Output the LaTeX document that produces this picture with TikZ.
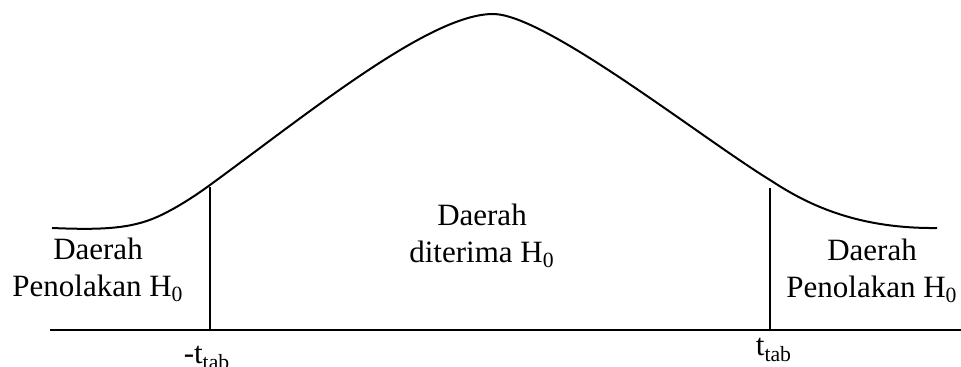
\documentclass[tikz,border=0pt]{standalone}
\usepackage{fontspec}
\setmainfont{Liberation Serif}
\usepackage{tikz}
\usetikzlibrary{positioning}
\newcommand{\Hnol}{H\textsubscript{0}}
\newcommand{\ttab}{t\textsubscript{tab}}

\begin{document}
\begin{tikzpicture}[x=0.5pt, y=-0.5pt, font=\fontsize{15.5}{18.5}\selectfont,
  lbl/.style={align=center, anchor=base, inner sep=0pt},
  crit/.style={line width=0.75pt}]
\useasboundingbox (0,0) rectangle (961,367);
% density curve
\coordinate (c0) at (52,228);
\coordinate (c1) at (157,217);
\coordinate (c2) at (210,185);
\coordinate (top) at (493,14);
\coordinate (c4) at (770,180);
\coordinate (c5) at (937,228);
\draw[line width=1pt] (c0) .. controls (100,230) and (130,229) .. (c1)
  .. controls (175,209) and (195,196) .. (c2)
  .. controls (310,112) and (430,14) .. (top)
  .. controls (545,14) and (700,137) .. (c4)
  .. controls (800,199.5) and (850,229) .. (c5);
% axis
\coordinate (ax0) at (50,330);
\coordinate (ax1) at (961,330);
\draw[line width=1pt] (ax0) -- (ax1);
% critical values
\coordinate (lt) at (210,187);
\coordinate (rt) at (770,188);
\draw[crit] (lt) -- (lt |- ax0);
\draw[crit] (rt) -- (rt |- ax0);
\node[lbl] (tl) at (207,364) {-\ttab};
\node[lbl] (tr) at (774,356) {\ttab};
% regions
\node[lbl] (tolakL) at (98,297) {Daerah\\ Penolakan \Hnol};
\node[lbl] (terima) at (482,263) {Daerah\\ diterima \Hnol};
\node[lbl] (tolakR) at (872,298) {Daerah\\ Penolakan \Hnol};
\end{tikzpicture}
\end{document}
